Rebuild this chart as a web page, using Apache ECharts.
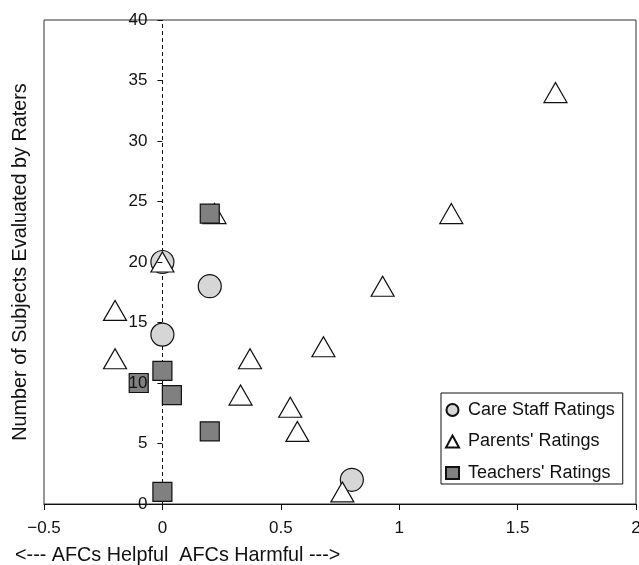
<!DOCTYPE html>
<html>
<head>
<meta charset="utf-8">
<script src="https://cdn.jsdelivr.net/npm/echarts@6/dist/echarts.min.js"></script>
<style>
html,body{margin:0;padding:0;background:#fff;}
#chart{width:639px;height:565px;}
</style>
</head>
<body>
<div id="chart"></div>
<script>
// Data
const careStaffX = [0, 0.2, 0, 0.8];
const careStaffY = [20, 18, 14, 2];
const parentsX = [1.66, 1.22, 0.93, 0.22, 0, -0.2, -0.2, 0.37, 0.33, 0.68, 0.54, 0.57, 0.76];
const parentsY = [34, 24, 18, 24, 20, 16, 12, 12, 9, 13, 8, 6, 1];
const teachersX = [0.2, 0, -0.1, 0.04, 0.2, 0];
const teachersY = [24, 11, 10, 9, 6, 1];
const seriesNames = ["Care Staff Ratings", "Parents' Ratings", "Teachers' Ratings"];
const xTicks = [-0.5, 0, 0.5, 1, 1.5, 2];
const yTicks = [0, 5, 10, 15, 20, 25, 30, 35, 40];
const xTitle = "<--- AFCs Helpful  AFCs Harmful --->";
const yTitle = "Number of Subjects Evaluated by Raters";

const zip = (xs, ys) => xs.map((x, i) => [x, ys[i]]);
const FONT = "'Liberation Sans', Arial, Helvetica, sans-serif";
const INK = '#111';

const GRID = {left: 44, right: 3, top: 20, bottom: 61};
const plotW = 639 - GRID.left - GRID.right;
// pixel distance from grid left edge to x = 0 (where the y axis sits)
const yAxisShift = plotW * (0 - xTicks[0]) / (xTicks[xTicks.length - 1] - xTicks[0]);

const chart = echarts.init(document.getElementById('chart'), null, {renderer: 'canvas'});
chart.setOption({
  animation: false,
  backgroundColor: '#fff',
  textStyle: {fontFamily: FONT, color: INK},
  grid: Object.assign({show: true, borderColor: '#333', borderWidth: 1,
         containLabel: false, outerBoundsMode: 'none'}, GRID),
  legend: {
    orient: 'vertical', left: 441, top: 393,
    padding: [7, 8, 1, 4],
    itemWidth: 13, itemHeight: 12, itemGap: 11.5,
    borderColor: '#111', borderWidth: 1, backgroundColor: '#fff',
    textStyle: {fontFamily: FONT, fontSize: 18, color: INK, lineHeight: 20, padding: [0, 0, 0, 4]},
    data: seriesNames
  },
  xAxis: {
    type: 'value', min: xTicks[0], max: xTicks[xTicks.length - 1], interval: 0.5,
    axisLine: {onZero: false, lineStyle: {color: INK, width: 1}},
    axisTick: {show: true, inside: false, length: 6, lineStyle: {color: INK}},
    axisLabel: {fontFamily: FONT, fontSize: 17, color: INK, margin: 16,
      formatter: v => String(v).replace('-', '\u2212')},
    splitLine: {show: false},
    name: xTitle, nameLocation: 'start', nameGap: 29,
    nameTextStyle: {fontFamily: FONT, fontSize: 19.8, color: INK, align: 'left', verticalAlign: 'top', padding: [42, 0, 0, 0]}
  },
  yAxis: {
    type: 'value', min: yTicks[0], max: yTicks[yTicks.length - 1], interval: 5,
    z: 20,
    offset: -yAxisShift,
    axisLine: {show: true, onZero: false, lineStyle: {color: INK, opacity: 0}},
    axisTick: {show: true, inside: false, length: 5, lineStyle: {color: INK}},
    axisLabel: {fontFamily: FONT, fontSize: 17, color: INK, margin: 15},
    splitLine: {show: false},
    name: yTitle, nameLocation: 'middle', nameGap: 132,
    nameTextStyle: {fontFamily: FONT, fontSize: 19.8, color: INK}
  },
  series: [
    {
      name: seriesNames[0], type: 'scatter', z: 10,
      symbol: 'circle', symbolSize: 23,
      itemStyle: {color: '#d6d6d6', borderColor: '#111', borderWidth: 1.2, opacity: 1},
      data: zip(careStaffX, careStaffY),
      markLine: {
        silent: true, symbol: 'none', label: {show: false}, animation: false,
        lineStyle: {color: INK, type: [4, 3], width: 1},
        data: [{xAxis: 0}]
      }
    },
    {
      name: seriesNames[1], type: 'scatter', z: 11,
      symbol: 'triangle', symbolSize: [23, 20],
      itemStyle: {color: '#ffffff', borderColor: '#111', borderWidth: 1.2, opacity: 1},
      data: zip(parentsX, parentsY)
    },
    {
      name: seriesNames[2], type: 'scatter', z: 12,
      symbol: 'rect', symbolSize: 19,
      itemStyle: {color: '#808080', borderColor: '#111', borderWidth: 1.2, opacity: 1},
      data: zip(teachersX, teachersY)
    }
  ]
});
</script>
</body>
</html>
